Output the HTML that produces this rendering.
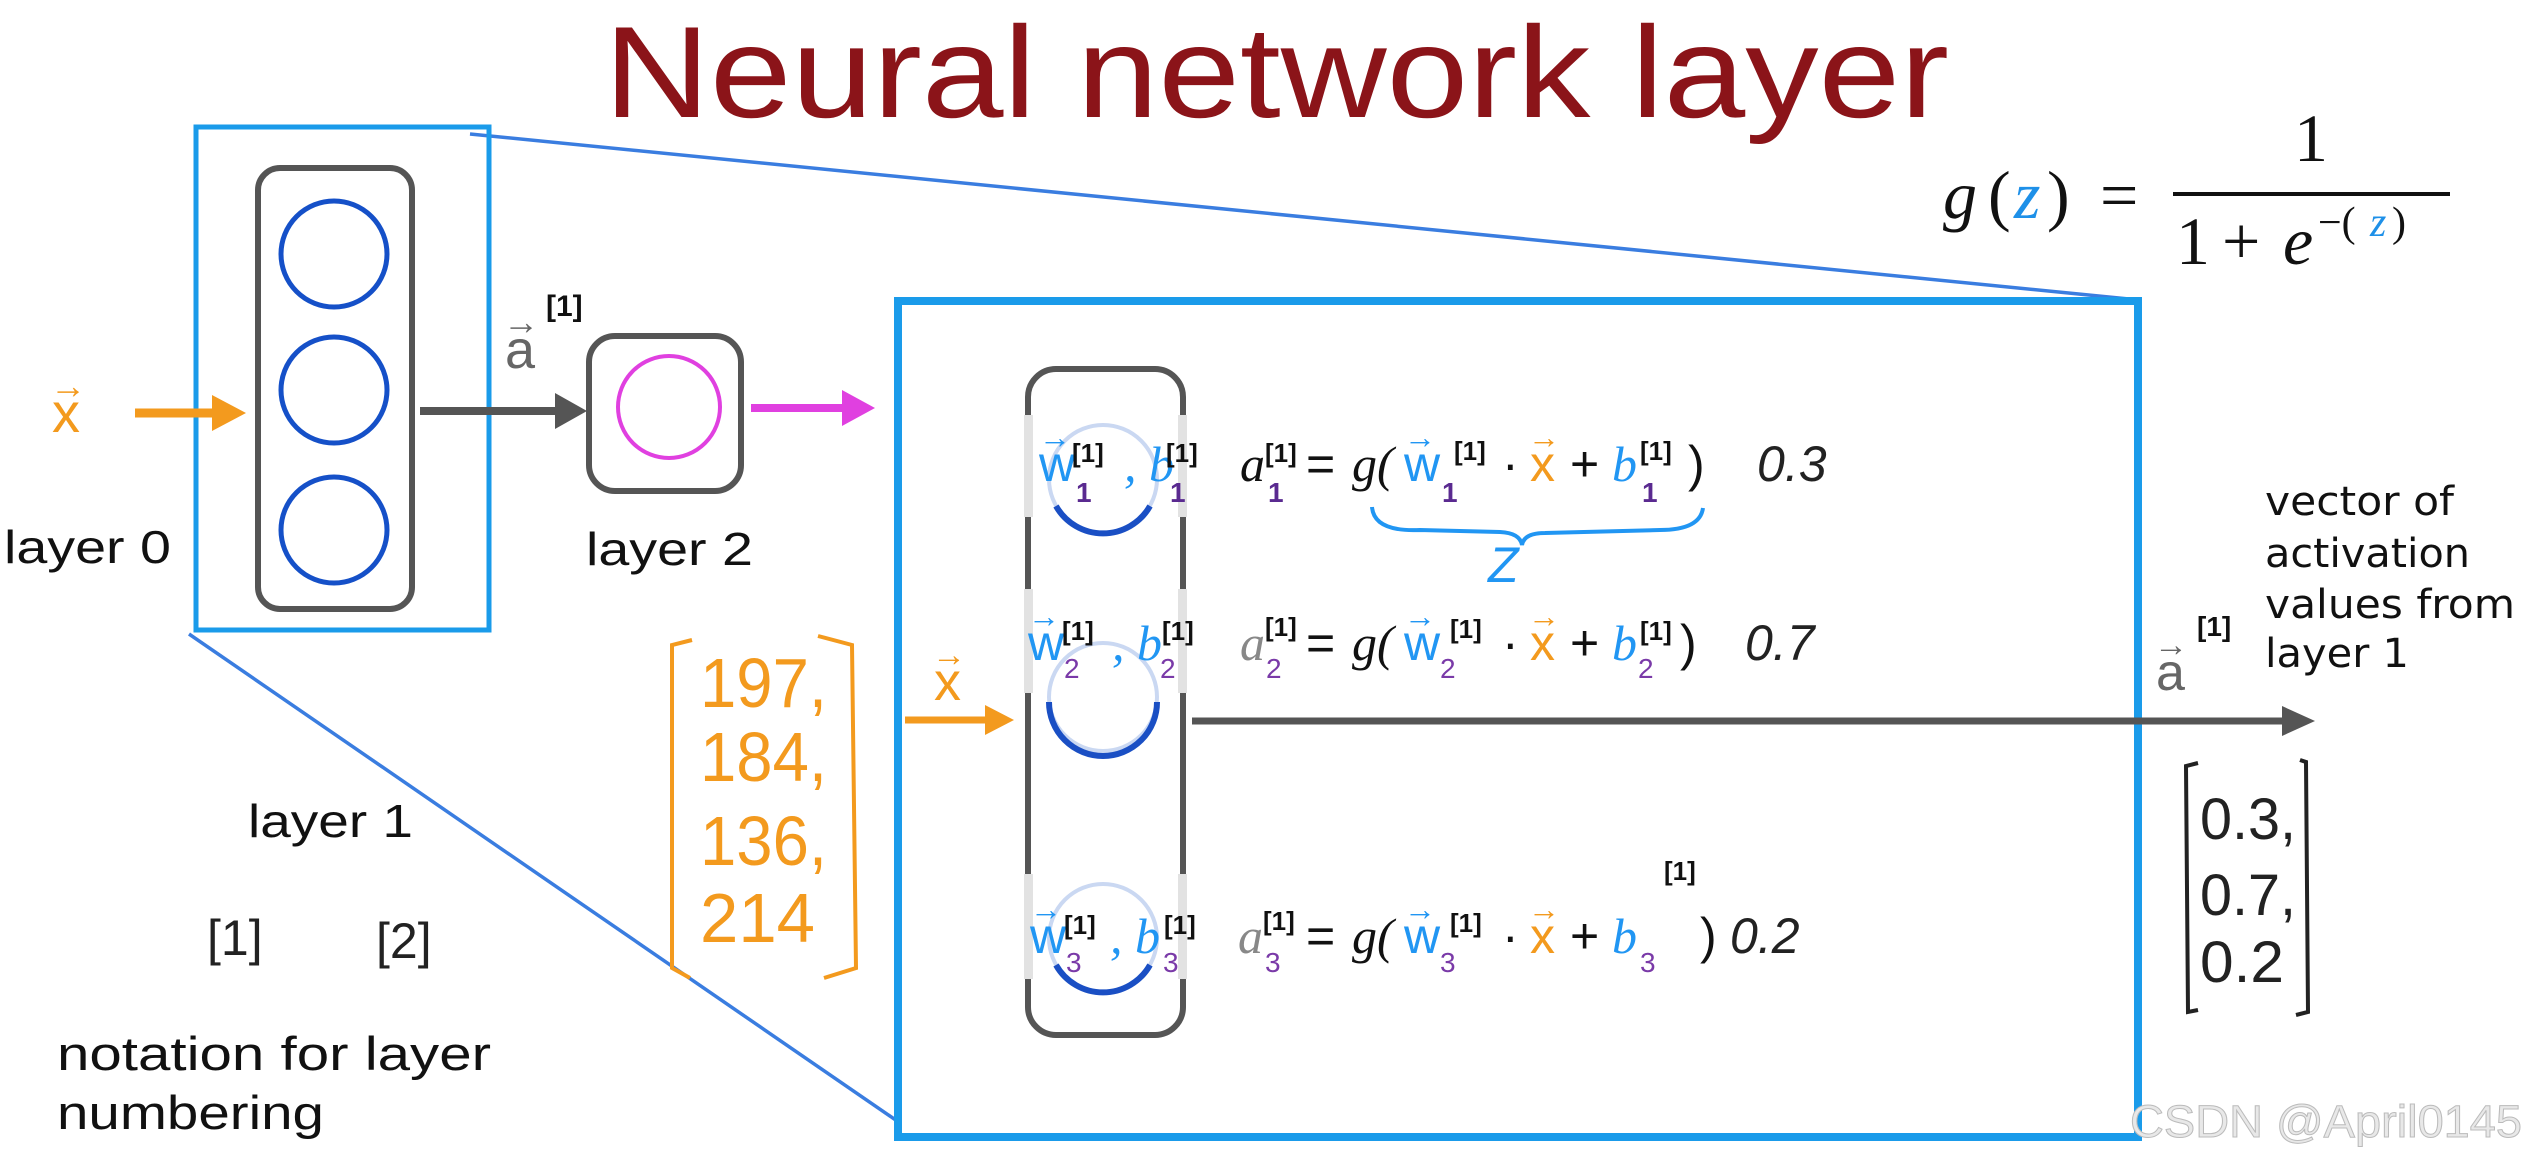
<!DOCTYPE html>
<html><head><meta charset="utf-8"><style>
html,body{margin:0;padding:0;background:#fff;}
svg{display:block;}
.s{font-family:"Liberation Sans",sans-serif;}
.d{font-family:"DejaVu Sans","Liberation Sans",sans-serif;}
.m{font-family:"Liberation Serif",serif;font-style:italic;}
.h{font-family:"Liberation Sans",sans-serif;font-style:italic;}
</style></head><body>
<svg width="2527" height="1162" viewBox="0 0 2527 1162" xmlns="http://www.w3.org/2000/svg">
<rect width="2527" height="1162" fill="#fff"/>
<text x="604" y="117" class="s" font-size="130" fill="#8b1419" textLength="1345" lengthAdjust="spacingAndGlyphs">Neural network layer</text>

<line x1="470" y1="134" x2="2139" y2="300" stroke="#3a7de0" stroke-width="3.5"/>
<line x1="189" y1="634" x2="900" y2="1123" stroke="#3a7de0" stroke-width="3.5"/>

<rect x="196" y="127" width="293" height="503" fill="none" stroke="#1a9bea" stroke-width="5"/>
<rect x="258" y="168" width="154" height="441" rx="22" fill="none" stroke="#555" stroke-width="6"/>
<circle cx="334" cy="254" r="53" fill="none" stroke="#1550c8" stroke-width="5"/>
<circle cx="334" cy="390" r="53" fill="none" stroke="#1550c8" stroke-width="5"/>
<circle cx="334" cy="530" r="53" fill="none" stroke="#1550c8" stroke-width="5"/>

<text x="52" y="432" class="s" font-size="56" fill="#f39a1e">x</text>
<text x="50" y="398" class="s" font-size="36" fill="#f39a1e">→</text>
<line x1="135" y1="413" x2="218" y2="413" stroke="#f39a1e" stroke-width="9"/>
<polygon points="212,395 246,413 212,431" fill="#f39a1e"/>

<line x1="420" y1="411" x2="560" y2="411" stroke="#555" stroke-width="8"/>
<polygon points="555,393 587,411 555,429" fill="#555"/>
<text x="505" y="368" class="s" font-size="54" fill="#666">a</text>
<text x="503" y="334" class="s" font-size="36" fill="#666">→</text>
<text x="546" y="316" class="s" font-size="30" font-weight="bold" fill="#111">[1]</text>

<rect x="589" y="336" width="152" height="155" rx="26" fill="none" stroke="#555" stroke-width="6"/>
<circle cx="669" cy="407" r="51" fill="none" stroke="#e040e0" stroke-width="4"/>
<line x1="751" y1="408" x2="848" y2="408" stroke="#e040e0" stroke-width="8"/>
<polygon points="842,390 875,408 842,426" fill="#e040e0"/>

<text x="4" y="563" class="s" font-size="46" fill="#111" textLength="167" lengthAdjust="spacingAndGlyphs">layer 0</text>
<text x="586" y="565" class="s" font-size="46" fill="#111" textLength="167" lengthAdjust="spacingAndGlyphs">layer 2</text>
<text x="248" y="837" class="s" font-size="46" fill="#111" textLength="165" lengthAdjust="spacingAndGlyphs">layer 1</text>
<text x="207" y="955" class="s" font-size="50" fill="#222">[1]</text>
<text x="376" y="958" class="s" font-size="50" fill="#222">[2]</text>
<text x="57" y="1070" class="s" font-size="47" fill="#111" textLength="434" lengthAdjust="spacingAndGlyphs">notation for layer</text>
<text x="57" y="1129" class="s" font-size="47" fill="#111" textLength="267" lengthAdjust="spacingAndGlyphs">numbering</text>

<path d="M692,640 L672,645 L672,968 L690,978" fill="none" stroke="#f39a1e" stroke-width="4"/>
<path d="M818,636 L852,645 L856,968 L824,978" fill="none" stroke="#f39a1e" stroke-width="4"/>
<g class="s" font-size="70" fill="#f39a1e">
<text x="700" y="707" textLength="127" lengthAdjust="spacingAndGlyphs">197,</text>
<text x="700" y="781" textLength="127" lengthAdjust="spacingAndGlyphs">184,</text>
<text x="700" y="865" textLength="127" lengthAdjust="spacingAndGlyphs">136,</text>
<text x="700" y="942" textLength="115" lengthAdjust="spacingAndGlyphs">214</text>
</g>

<rect x="898" y="301" width="1240" height="836" fill="none" stroke="#1a9bea" stroke-width="8"/>

<rect x="1028" y="369" width="155" height="666" rx="28" fill="none" stroke="#555" stroke-width="6"/>
<g fill="#e2e2e2">
<rect x="1024" y="415" width="9" height="102"/><rect x="1178" y="415" width="9" height="102"/>
<rect x="1024" y="589" width="9" height="104"/><rect x="1178" y="589" width="9" height="104"/>
<rect x="1024" y="874" width="9" height="105"/><rect x="1178" y="874" width="9" height="105"/>
</g>
<circle cx="1103" cy="479" r="54" fill="none" stroke="#cad8f2" stroke-width="4"/>
<circle cx="1103" cy="697" r="54" fill="none" stroke="#cad8f2" stroke-width="4"/>
<circle cx="1103" cy="938" r="54" fill="none" stroke="#cad8f2" stroke-width="4"/>
<path d="M1056,506 A54,54 0 0 0 1150,506" fill="none" stroke="#1a4fc4" stroke-width="6"/>
<path d="M1049,702 A54,54 0 0 0 1157,702" fill="none" stroke="#1a4fc4" stroke-width="6"/>
<path d="M1056,965 A54,54 0 0 0 1150,965" fill="none" stroke="#1a4fc4" stroke-width="6"/>

<text x="934" y="700" class="s" font-size="54" fill="#f39a1e">x</text>
<text x="932" y="666" class="s" font-size="34" fill="#f39a1e">→</text>
<line x1="905" y1="720" x2="990" y2="720" stroke="#f39a1e" stroke-width="7"/>
<polygon points="985,705 1014,720 985,735" fill="#f39a1e"/>

<line x1="1192" y1="721" x2="2290" y2="721" stroke="#555" stroke-width="7"/>
<polygon points="2282,706 2315,721 2282,736" fill="#555"/>
<text x="2156" y="690" class="s" font-size="52" fill="#666">a</text>
<text x="2154" y="656" class="s" font-size="34" fill="#666">→</text>
<text x="2197" y="636" class="s" font-size="28" font-weight="bold" fill="#111">[1]</text>

<g class="d" font-size="40" fill="#111">
<text x="2265" y="515" textLength="189" lengthAdjust="spacingAndGlyphs">vector of</text>
<text x="2265" y="567" textLength="205" lengthAdjust="spacingAndGlyphs">activation</text>
<text x="2265" y="618" textLength="250" lengthAdjust="spacingAndGlyphs">values from</text>
<text x="2265" y="667" textLength="144" lengthAdjust="spacingAndGlyphs">layer 1</text>
</g>

<path d="M2198,763 L2186,766 L2188,1012 L2198,1010" fill="none" stroke="#222" stroke-width="4"/>
<path d="M2300,760 L2306,762 L2308,1012 L2296,1015" fill="none" stroke="#222" stroke-width="4"/>
<g class="s" font-size="58" fill="#222">
<text x="2200" y="839" textLength="96" lengthAdjust="spacingAndGlyphs">0.3,</text>
<text x="2200" y="915" textLength="96" lengthAdjust="spacingAndGlyphs">0.7,</text>
<text x="2200" y="982" textLength="84" lengthAdjust="spacingAndGlyphs">0.2</text>
</g>

<g class="m" font-size="68" fill="#111">
<text x="1943" y="218">g</text>
<text x="1988" y="218" font-style="normal">(</text>
<text x="2014" y="218" fill="#1e90e8">z</text>
<text x="2047" y="218" font-style="normal">)</text>
<text x="2100" y="218" font-style="normal">=</text>
<text x="2294" y="161" font-style="normal">1</text>
<text x="2176" y="264" font-style="normal">1</text>
<text x="2222" y="264" font-style="normal">+</text>
<text x="2283" y="264">e</text>
<text x="2318" y="236" font-size="42" font-style="normal">−(</text>
<text x="2370" y="236" font-size="42" fill="#1e90e8">z</text>
<text x="2392" y="236" font-size="42" font-style="normal">)</text>
</g>
<line x1="2173" y1="194" x2="2450" y2="194" stroke="#111" stroke-width="4"/>

<g font-size="50">
<text x="1039" y="481" class="s" fill="#2196f3">w</text><text x="1039" y="448" class="s" font-size="32" fill="#2196f3">→</text>
<text x="1072" y="462" class="s" font-size="26" font-weight="bold" fill="#111">[1]</text>
<text x="1076" y="502" class="s" font-size="28" font-weight="bold" fill="#5a2a90">1</text>
<text x="1124" y="481" class="m" fill="#2196f3">, b</text>
<text x="1166" y="462" class="s" font-size="26" font-weight="bold" fill="#111">[1]</text>
<text x="1170" y="502" class="s" font-size="28" font-weight="bold" fill="#5a2a90">1</text>
<text x="1240" y="481" class="m" fill="#111">a</text>
<text x="1265" y="462" class="s" font-size="26" font-weight="bold" fill="#111">[1]</text>
<text x="1268" y="502" class="s" font-size="28" font-weight="bold" fill="#5a2a90">1</text>
<text x="1306" y="481" class="s" fill="#111">=</text>
<text x="1352" y="481" class="m" fill="#111">g(</text>
<text x="1404" y="481" class="s" fill="#2196f3">w</text><text x="1404" y="448" class="s" font-size="32" fill="#2196f3">→</text>
<text x="1454" y="460" class="s" font-size="26" font-weight="bold" fill="#111">[1]</text>
<text x="1442" y="502" class="s" font-size="28" font-weight="bold" fill="#5a2a90">1</text>
<text x="1502" y="481" class="s" fill="#111">·</text>
<text x="1530" y="481" class="s" fill="#f39a1e">x</text><text x="1528" y="448" class="s" font-size="32" fill="#f39a1e">→</text>
<text x="1570" y="481" class="s" fill="#111">+</text>
<text x="1612" y="481" class="m" fill="#2196f3">b</text>
<text x="1640" y="460" class="s" font-size="26" font-weight="bold" fill="#111">[1]</text>
<text x="1642" y="502" class="s" font-size="28" font-weight="bold" fill="#5a2a90">1</text>
<text x="1688" y="481" class="s" fill="#111">)</text>
<text x="1757" y="481" class="h" fill="#222">0.3</text>
<path d="M1372,507 Q1374,532 1420,530 L1500,532 Q1520,533 1522,545 Q1524,533 1545,533 L1660,530 Q1700,530 1703,508" fill="none" stroke="#2196f3" stroke-width="4"/>
<text x="1488" y="582" class="h" font-size="50" fill="#2196f3">Z</text>

<text x="1028" y="660" class="s" fill="#2196f3">w</text><text x="1028" y="627" class="s" font-size="32" fill="#2196f3">→</text>
<text x="1062" y="640" class="s" font-size="26" font-weight="bold" fill="#111">[1]</text>
<text x="1064" y="678" class="s" font-size="28" fill="#7a3aa8">2</text>
<text x="1112" y="660" class="m" fill="#2196f3">, b</text>
<text x="1162" y="640" class="s" font-size="26" font-weight="bold" fill="#111">[1]</text>
<text x="1160" y="678" class="s" font-size="28" fill="#7a3aa8">2</text>
<text x="1240" y="660" class="m" fill="#888">a</text>
<text x="1265" y="636" class="s" font-size="26" font-weight="bold" fill="#111">[1]</text>
<text x="1266" y="678" class="s" font-size="28" fill="#7a3aa8">2</text>
<text x="1306" y="660" class="s" fill="#111">=</text>
<text x="1352" y="660" class="m" fill="#111">g(</text>
<text x="1404" y="660" class="s" fill="#2196f3">w</text><text x="1404" y="627" class="s" font-size="32" fill="#2196f3">→</text>
<text x="1450" y="638" class="s" font-size="26" font-weight="bold" fill="#111">[1]</text>
<text x="1440" y="678" class="s" font-size="28" fill="#7a3aa8">2</text>
<text x="1502" y="660" class="s" fill="#111">·</text>
<text x="1530" y="660" class="s" fill="#f39a1e">x</text><text x="1528" y="627" class="s" font-size="32" fill="#f39a1e">→</text>
<text x="1570" y="660" class="s" fill="#111">+</text>
<text x="1612" y="660" class="m" fill="#2196f3">b</text>
<text x="1640" y="640" class="s" font-size="26" font-weight="bold" fill="#111">[1]</text>
<text x="1638" y="678" class="s" font-size="28" fill="#7a3aa8">2</text>
<text x="1680" y="660" class="s" fill="#111">)</text>
<text x="1745" y="660" class="h" fill="#222">0.7</text>

<text x="1030" y="953" class="s" fill="#2196f3">w</text><text x="1030" y="920" class="s" font-size="32" fill="#2196f3">→</text>
<text x="1064" y="934" class="s" font-size="26" font-weight="bold" fill="#111">[1]</text>
<text x="1066" y="972" class="s" font-size="28" fill="#7a3aa8">3</text>
<text x="1110" y="953" class="m" fill="#2196f3">, b</text>
<text x="1164" y="934" class="s" font-size="26" font-weight="bold" fill="#111">[1]</text>
<text x="1163" y="972" class="s" font-size="28" fill="#7a3aa8">3</text>
<text x="1238" y="953" class="m" fill="#888">a</text>
<text x="1263" y="930" class="s" font-size="26" font-weight="bold" fill="#111">[1]</text>
<text x="1265" y="972" class="s" font-size="28" fill="#7a3aa8">3</text>
<text x="1306" y="953" class="s" fill="#111">=</text>
<text x="1352" y="953" class="m" fill="#111">g(</text>
<text x="1404" y="953" class="s" fill="#2196f3">w</text><text x="1404" y="920" class="s" font-size="32" fill="#2196f3">→</text>
<text x="1450" y="932" class="s" font-size="26" font-weight="bold" fill="#111">[1]</text>
<text x="1440" y="972" class="s" font-size="28" fill="#7a3aa8">3</text>
<text x="1502" y="953" class="s" fill="#111">·</text>
<text x="1530" y="953" class="s" fill="#f39a1e">x</text><text x="1528" y="920" class="s" font-size="32" fill="#f39a1e">→</text>
<text x="1570" y="953" class="s" fill="#111">+</text>
<text x="1612" y="953" class="m" fill="#2196f3">b</text>
<text x="1664" y="880" class="s" font-size="26" font-weight="bold" fill="#111">[1]</text>
<text x="1640" y="972" class="s" font-size="28" fill="#7a3aa8">3</text>
<text x="1700" y="953" class="s" fill="#111">)</text>
<text x="1730" y="953" class="h" fill="#222">0.2</text>
</g>

<text x="2130" y="1137" class="s" font-size="45" fill="#e8e8e8" stroke="#bbb" stroke-width="1" textLength="392" lengthAdjust="spacingAndGlyphs">CSDN @April0145</text>
</svg>
</body></html>
